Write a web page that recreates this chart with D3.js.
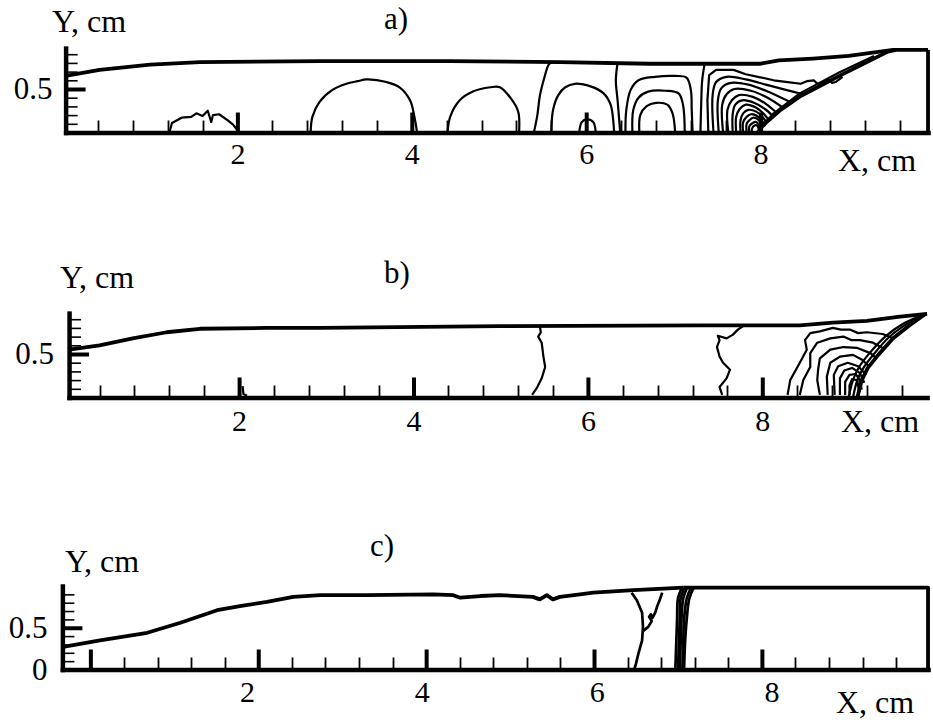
<!DOCTYPE html>
<html>
<head>
<meta charset="utf-8">
<script src="https://cdn.jsdelivr.net/npm/d3@7"></script>
<style>
  body { margin: 0; background: #fff; }
  text { font-family: "Liberation Serif", "Times New Roman", serif; fill: #000; }
</style>
</head>
<body>
<div id="graph"></div>
<script>
// ---- tick labels ----
var xLabels = [2, 4, 6, 8];
var xMajor = [0, 2, 4, 6, 8];
var yLabelsAB = [0.5];
var yLabelsC = [0, 0.5];

// ---- panel a) : free surface, wedge and contours (X, Y in cm) ----
var topA = [[0.03,0.65],[0.42,0.72],[1.0,0.78],[1.57,0.81],[2.95,0.82],[4.44,0.82],[5.7,0.81],
  [6.73,0.79],[7.99,0.79],[8.21,0.83],[8.6,0.85],[9.01,0.88],[9.52,0.95],[9.92,0.95]];
var rightA = [[9.92,0.95],[9.92,0]];
var wedgeA = [[7.97,0],[8.02,0.07],[8.08,0.13],[8.23,0.26],[8.46,0.42],[8.92,0.66],[9.46,0.93],[9.55,0.95]];
var wedgeA2 = [[8.04,0.1],[8.15,0.22],[8.45,0.45],[8.9,0.69],[9.3,0.88]];
var smoothA = [
  [[2.84,0],[2.86,0.18],[2.94,0.35],[3.09,0.49],[3.25,0.56],[3.38,0.59],[3.48,0.61],[3.71,0.58],[3.86,0.52],[3.98,0.37],[4.03,0.18],[4.06,0]],
  [[4.41,0],[4.44,0.18],[4.55,0.37],[4.70,0.47],[4.90,0.52],[5.01,0.52],[5.13,0.40],[5.22,0.24],[5.23,0]],
  [[5.40,0],[5.44,0.20],[5.47,0.43],[5.52,0.63],[5.57,0.78],[5.61,0.81]],
  [[5.60,0],[5.62,0.26],[5.68,0.43],[5.76,0.52],[5.87,0.56],[6.05,0.53],[6.20,0.45],[6.28,0.32],[6.31,0.14],[6.32,0]],
  [[5.92,0],[5.95,0.12],[6.01,0.15],[6.08,0.12],[6.11,0]],
  [[6.36,0.80],[6.34,0.60],[6.36,0.37],[6.39,0]],
  [[6.45,0],[6.46,0.26],[6.51,0.49],[6.60,0.60],[6.79,0.64],[7.02,0.65],[7.15,0.63],[7.20,0.49],[7.21,0.26],[7.22,0]],
  [[6.53,0],[6.54,0.26],[6.60,0.40],[6.71,0.47],[6.91,0.48],[7.06,0.45],[7.11,0.32],[7.13,0]],
  [[6.61,0],[6.62,0.20],[6.69,0.30],[6.80,0.34],[6.93,0.32],[6.99,0.22],[7.02,0]],
  [[7.36,0.80],[7.33,0.60],[7.32,0.37],[7.31,0]],
  // vortex near the wedge root
  [[7.46,0],[7.45,0.43],[7.49,0.58],[7.61,0.64],[7.83,0.61],[8.06,0.55],[8.29,0.49],[8.49,0.44]],
  [[7.52,0],[7.51,0.37],[7.55,0.51],[7.66,0.57],[7.86,0.55],[8.06,0.48],[8.34,0.35]],
  [[7.57,0],[7.56,0.32],[7.61,0.44],[7.70,0.50],[7.89,0.48],[8.06,0.41],[8.25,0.29]],
  [[7.63,0],[7.62,0.26],[7.67,0.37],[7.75,0.43],[7.91,0.41],[8.06,0.33],[8.18,0.23]],
  [[7.68,0],[7.68,0.21],[7.71,0.32],[7.79,0.37],[7.93,0.34],[8.05,0.27],[8.14,0.19]],
  [[7.72,0],[7.72,0.18],[7.76,0.27],[7.83,0.32],[7.94,0.29],[8.03,0.22],[8.09,0.15]],
  [[7.77,0],[7.77,0.14],[7.80,0.22],[7.86,0.26],[7.95,0.24],[8.02,0.18],[8.07,0.11]],
  [[7.80,0],[7.80,0.12],[7.84,0.18],[7.89,0.21],[7.96,0.19],[8.02,0.13],[8.05,0.07]],
  [[7.84,0],[7.84,0.10],[7.87,0.14],[7.92,0.17],[7.98,0.14],[8.01,0.08]],
  [[7.87,0],[7.87,0.07],[7.91,0.11],[7.95,0.12],[7.99,0.07],[8.00,0.03]],
  [[7.90,0],[7.90,0.04],[7.93,0.08],[7.96,0.08],[7.98,0.03]]
];
var jaggedA = [
  [[1.22,0],[1.25,0.11],[1.36,0.17],[1.47,0.18],[1.53,0.22],[1.60,0.19],[1.66,0.25],[1.70,0.12],[1.72,0.20],[1.79,0.21],[1.89,0.14],[1.95,0.09],[2.02,0]],
  [[7.40,0.01],[7.39,0.37],[7.41,0.66],[7.49,0.72],[7.69,0.72],[7.83,0.67],[7.97,0.64],[8.15,0.60],[8.31,0.58],[8.46,0.56],
   [8.53,0.59],[8.61,0.60],[8.66,0.55],[8.69,0.57],[8.78,0.61],[8.82,0.57],[8.86,0.58],[8.94,0.64]]
];

// ---- panel b) ----
var topB = [[0.05,0.55],[0.40,0.60],[0.78,0.68],[1.17,0.75],[1.55,0.79],[2.32,0.80],[2.93,0.80],[4.99,0.82],
  [7.29,0.83],[8.43,0.83],[8.81,0.86],[9.20,0.88],[9.58,0.93],[9.89,0.96]];
var wedgeB = [
  [[9.09,0],[9.14,0.20],[9.21,0.34],[9.33,0.49],[9.50,0.68],[9.69,0.83],[9.87,0.96]],
  [[9.04,0],[9.09,0.20],[9.16,0.34],[9.28,0.50],[9.45,0.69],[9.65,0.84],[9.87,0.96]],
  [[8.99,0],[9.04,0.20],[9.11,0.35],[9.23,0.51],[9.41,0.70],[9.62,0.85],[9.87,0.96]]
];
var jaggedB = [
  [[5.36,0.03],[5.42,0.12],[5.47,0.22],[5.51,0.35],[5.49,0.47],[5.47,0.63],[5.43,0.70],[5.46,0.75],[5.45,0.81]],
  [[7.54,0.03],[7.51,0.12],[7.59,0.22],[7.63,0.32],[7.55,0.40],[7.51,0.47],[7.48,0.58],[7.51,0.66],[7.49,0.71],
   [7.59,0.68],[7.66,0.72],[7.72,0.78],[7.78,0.82]],
  [[8.29,0.03],[8.32,0.20],[8.37,0.29],[8.43,0.40],[8.51,0.55],[8.49,0.66],[8.55,0.74],[8.66,0.76],[8.81,0.80],
   [8.90,0.78],[9.01,0.78],[9.10,0.74],[9.20,0.75],[9.38,0.73],[9.50,0.68]],
  [[8.43,0.03],[8.47,0.20],[8.55,0.35],[8.55,0.51],[8.63,0.63],[8.78,0.68],[8.93,0.70],[9.02,0.66],[9.12,0.66],
   [9.27,0.63],[9.38,0.57]],
  [[8.66,0.03],[8.63,0.20],[8.64,0.32],[8.66,0.45],[8.78,0.55],[8.93,0.58],[9.09,0.57],[9.24,0.51],[9.31,0.45]],
  [[8.75,0.03],[8.74,0.24],[8.78,0.40],[8.89,0.47],[9.04,0.49],[9.15,0.43],[9.23,0.35]],
  [[8.83,0.03],[8.82,0.26],[8.87,0.36],[8.98,0.40],[9.10,0.36],[9.19,0.26]],
  [[8.89,0.03],[8.89,0.22],[8.94,0.31],[9.03,0.34],[9.12,0.28],[9.17,0.17]],
  [[8.95,0.03],[8.95,0.18],[9.00,0.26],[9.07,0.27],[9.12,0.20],[9.14,0.09]],
  [[9.00,0.03],[9.00,0.14],[9.03,0.21],[9.09,0.20],[9.11,0.06]],
  [[2.04,0.13],[2.05,0.04],[2.09,0.02]]
];

// ---- panel c) ----
var topC = [[-0.10,0.27],[0.32,0.35],[0.86,0.44],[1.24,0.56],[1.66,0.71],[1.92,0.76],[2.23,0.81],[2.53,0.87],
  [2.84,0.89],[3.37,0.89],[4.13,0.90],[4.36,0.89],[4.44,0.86],[4.67,0.88],[4.89,0.89],[5.27,0.87],[5.35,0.84],
  [5.43,0.89],[5.50,0.84],[5.58,0.87],[5.81,0.90],[5.96,0.92],[6.42,0.95],[6.99,0.98]];
var boxC = [[6.99,0.98],[9.79,0.98],[9.79,0]];
var jaggedC = [
  [[6.40,0.92],[6.46,0.83],[6.52,0.68],[6.53,0.51],[6.52,0.35],[6.48,0.20],[6.45,0.07],[6.43,0]],
  [[6.75,0.92],[6.72,0.83],[6.69,0.75],[6.67,0.68],[6.64,0.62],[6.62,0.66],[6.60,0.63],[6.63,0.58],[6.59,0.51],[6.53,0.46]]
];
var bundleC = [
  [[6.90,0],[6.91,0.3],[6.92,0.6],[6.93,0.85],[6.97,0.97]],
  [[6.93,0],[6.94,0.3],[6.95,0.6],[6.96,0.85],[7.00,0.97]],
  [[6.95,0],[6.96,0.3],[6.97,0.6],[6.99,0.85],[7.03,0.97]],
  [[6.98,0],[6.99,0.3],[7.00,0.6],[7.03,0.85],[7.08,0.98]],
  [[7.00,0],[7.01,0.3],[7.03,0.6],[7.06,0.85],[7.11,0.98]]
];
var tickAnchorsC = [0.21, 7.89];   // where the thick ticks 0 and 8 sit in panel c

var panels = [
  { name: 'a)', L: {origin: 63, ppc: 87.2, base: 132.5, ppcY: 87, xMin: 0.03, xMax: 9.92, yMax: 0.97},
    bold: [topA, rightA, wedgeA], thin: smoothA, jag: jaggedA.concat([wedgeA2]), yLab: yLabelsAB,
    title: [384, 29], xt: [838, 171], yt: [52, 32], xpad: 10, ypad: 13, lw: 2.2 },
  { name: 'b)', L: {origin: 64.7, ppc: 87.2, base: 397.5, ppcY: 87, xMin: 0.05, xMax: 9.89, yMax: 0.97},
    bold: [topB, wedgeB[0]], thin: wedgeB.slice(1), jag: jaggedB, yLab: yLabelsAB,
    title: [384, 283], xt: [841, 432], yt: [60, 288], xpad: 12, ypad: 15, lw: 2.2 },
  { name: 'c)', L: {origin: 72, ppc: 87.44, base: 669.5, ppcY: 83.5, xMin: -0.11, xMax: 9.79, yMax: 1.0},
    bold: [topC, boxC], thin: bundleC, jag: jaggedC, yLab: yLabelsC, ticks: tickAnchorsC,
    title: [370, 556], xt: [836, 713], yt: [65, 572], xpad: 11, ypad: 15, lw: 2.7 }
];

var svg = d3.select('#graph').append('svg')
    .attr('width', 933).attr('height', 722);

var FONT = '"Liberation Serif", "Times New Roman", serif';

panels.forEach(function (p) {
  var L = p.L;
  var x = d3.scaleLinear().domain([L.xMin, L.xMax])
      .range([L.origin + L.ppc * L.xMin, L.origin + L.ppc * L.xMax]);
  var y = d3.scaleLinear().domain([0, L.yMax])
      .range([L.base, L.base - L.ppcY * L.yMax]);
  // panel c has its tick marks shifted from the labels
  var t = p.ticks ? d3.scaleLinear().domain([0, 8]).range([x(p.ticks[0]), x(p.ticks[1])]) : x;

  var g = svg.append('g');
  var smooth = d3.line().x(function (d) { return x(d[0]); }).y(function (d) { return y(d[1]); })
      .curve(d3.curveCatmullRom);
  var rough = d3.line().x(function (d) { return x(d[0]); }).y(function (d) { return y(d[1]); });

  g.selectAll('path.thin').data(p.thin).enter().append('path')
      .attr('d', smooth).attr('fill', 'none').attr('stroke', '#000').attr('stroke-width', p.lw);
  g.selectAll('path.jag').data(p.jag).enter().append('path')
      .attr('d', rough).attr('fill', 'none').attr('stroke', '#000').attr('stroke-width', p.lw)
      .attr('stroke-linejoin', 'round');
  g.selectAll('path.bold').data(p.bold).enter().append('path')
      .attr('d', rough).attr('fill', 'none').attr('stroke', '#000').attr('stroke-width', 3.8)
      .attr('stroke-linejoin', 'round');

  // x axis: baseline, minor ticks (every 0.4), thick major ticks, labels
  var minorX = d3.range(1, 25).filter(function (i) { return i % 5 !== 0; })
      .map(function (i) { return i * 0.4; })
      .filter(function (v) { return t(v) < x(L.xMax) - 4; });
  var majorX = p.ticks ? xMajor : xLabels;
  var xg = g.append('g').attr('transform', 'translate(0,' + L.base + ')');
  xg.append('g').call(d3.axisTop(x).tickValues([]).tickSizeOuter(0))
      .select('.domain').attr('stroke-width', 4.5).attr('stroke-linecap', 'square');
  var minorPath = minorX.map(function (d) {
    var px = Math.round(t(d)) + 0.5;
    return 'M' + px + ',-1V-12';
  }).join('');
  xg.append('path').attr('d', minorPath).attr('fill', 'none')
      .attr('stroke', '#000').attr('stroke-width', 1.8);
  xg.append('g').call(d3.axisTop(t).tickValues(majorX).tickSize(20).tickFormat(''))
      .call(function (s) { s.select('.domain').remove(); })
      .selectAll('line').attr('stroke-width', 4);
  xg.append('g').call(d3.axisBottom(x).tickValues(xLabels).tickSize(0).tickPadding(p.xpad))
      .attr('font-family', FONT).attr('font-size', 30)
      .call(function (s) { s.select('.domain').remove(); });

  // y axis
  var yg = g.append('g').attr('transform', 'translate(' + x(L.xMin) + ',0)');
  var minorY = d3.range(1, 10).filter(function (i) { return i !== 5; })
      .map(function (i) { return i / 10; });
  yg.append('g').call(d3.axisRight(y).tickValues(minorY).tickSize(12).tickFormat(''))
      .call(function (s) { s.select('.domain').remove(); })
      .selectAll('line').attr('stroke-width', 1.6);
  yg.append('g').call(d3.axisRight(y).tickValues([0.5]).tickSize(20).tickFormat(''))
      .call(function (s) { s.select('.domain').remove(); })
      .selectAll('line').attr('stroke-width', 4);
  yg.append('g').call(d3.axisRight(y).tickValues([]).tickSizeOuter(0))
      .select('.domain').attr('stroke-width', 4.5).attr('stroke-linecap', 'square');
  yg.append('g').call(d3.axisLeft(y).tickValues(p.yLab).tickSize(0).tickPadding(p.ypad)
        .tickFormat(function (d) { return d === 0 ? '0' : String(d); }))
      .attr('font-family', FONT).attr('font-size', 31)
      .call(function (s) { s.select('.domain').remove(); });

  // titles
  g.append('text').attr('x', p.title[0]).attr('y', p.title[1]).attr('font-size', 31).text(p.name);
  g.append('text').attr('x', p.xt[0]).attr('y', p.xt[1]).attr('font-size', 32).text('X, cm');
  g.append('text').attr('x', p.yt[0]).attr('y', p.yt[1]).attr('font-size', 32).text('Y, cm');
});
</script>
</body>
</html>
